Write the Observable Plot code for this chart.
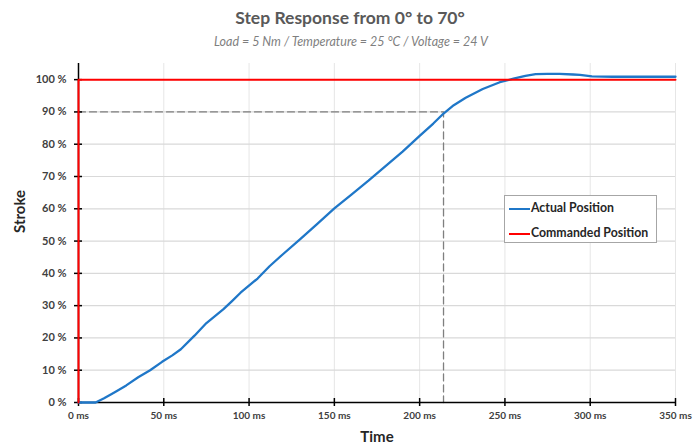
<!DOCTYPE html>
<html><head><meta charset="utf-8">
<script src="https://cdn.jsdelivr.net/npm/d3@7"></script>
<script src="https://cdn.jsdelivr.net/npm/@observablehq/plot@0.6"></script>
<style>
body{margin:0;background:#fff;font-family:Lato,"Open Sans",sans-serif;}
#wrap{position:relative;width:693px;height:445px;overflow:hidden;background:#fff;}
#title{position:absolute;top:7px;left:0;width:700px;text-align:center;font-weight:bold;font-size:17.5px;color:#595959;line-height:22px;}
#sub{position:absolute;top:34px;left:0;width:702px;text-align:center;font-style:italic;font-size:12.5px;color:#7f7f7f;line-height:16px;}
#chart{position:absolute;top:52px;left:0;}
#legend{position:absolute;left:504px;top:195px;width:151px;height:46px;border:1px solid #a6a6a6;background:#fff;font-weight:bold;font-size:12.3px;color:#262626;}
.item{position:absolute;left:4px;height:14px;line-height:14px;white-space:nowrap;}
.sw{display:inline-block;width:21px;height:2px;vertical-align:middle;margin-right:1px;}
</style></head>
<body>
<div id="wrap">
  <div id="title"></div>
  <div id="sub"></div>
  <div id="chart"></div>
  <div id="legend"></div>
</div>
<script>
const titleText = "Step Response from 0° to 70°";
const subtitleText = "Load = 5 Nm / Temperature = 25 °C / Voltage = 24 V";
const xLabel = "Time";
const yLabel = "Stroke";
const seriesNames = ["Actual Position", "Commanded Position"];
const seriesColors = ["#1f77c8", "#ff0000"];

const xTicks = [0, 50, 100, 150, 200, 250, 300, 350];
const yTicks = [0, 10, 20, 30, 40, 50, 60, 70, 80, 90, 100];

const actualTime = [0, 10, 15, 21, 28, 35, 42, 49, 55, 60, 68, 75, 85, 90, 95, 105, 112, 120, 130, 140, 150, 160, 170, 180, 190, 200, 208, 214, 220, 227, 237, 247, 255, 262, 268, 275, 282, 290, 294, 301, 313, 330, 350];
const actualValue = [0, 0, 1.3, 3.1, 5.3, 7.8, 10.0, 12.6, 14.6, 16.5, 20.7, 24.6, 28.9, 31.4, 34.0, 38.4, 42.2, 46.0, 50.6, 55.3, 60.1, 64.4, 68.7, 73.2, 77.7, 82.6, 86.4, 89.5, 92.1, 94.4, 97.1, 99.2, 100.3, 101.2, 101.7, 101.8, 101.8, 101.6, 101.5, 101.0, 100.9, 100.9, 100.9];

const commandTime = [0, 0, 350];
const commandValue = [0, 100, 100];

const riseLevel = 90;
const riseTime = 214;

document.getElementById("title").textContent = titleText;
document.getElementById("sub").textContent = subtitleText;

const actual = actualTime.map((t, i) => ({t, v: actualValue[i]}));
const command = commandTime.map((t, i) => ({t, v: commandValue[i]}));
const guide = [{t: 0, v: riseLevel}, {t: riseTime, v: riseLevel}, {t: riseTime, v: 0}];

const chart = Plot.plot({
  width: 693, height: 393,
  marginLeft: 78, marginRight: 18, marginTop: 11, marginBottom: 43,
  style: {fontFamily: "Lato, 'Open Sans', sans-serif", fontSize: "11px", color: "#404040", background: "white", overflow: "visible"},
  x: {domain: [0, 350]},
  y: {domain: [0, 105]},
  marks: [
    Plot.gridX(xTicks, {stroke: "#e6e6e6", strokeOpacity: 1, strokeWidth: 1}),
    Plot.gridY(yTicks, {stroke: "#d9d9d9", strokeOpacity: 1, strokeWidth: 1.2}),
    Plot.line(guide, {x: "t", y: "v", stroke: "#7f7f7f", strokeWidth: 1.3, strokeDasharray: "7,4"}),
    Plot.ruleX([0], {stroke: "#000", strokeWidth: 1.5}),
    Plot.ruleY([0], {stroke: "#000", strokeWidth: 1.5}),
    Plot.axisY(yTicks, {tickSize: 8, dx: 4, tickFormat: () => "", label: null, stroke: "#000", strokeWidth: 1.5}),
    Plot.axisX(xTicks, {tickSize: 8, dy: -4, tickFormat: () => "", label: null, stroke: "#000", strokeWidth: 1.5}),
    Plot.axisY(yTicks, {tickSize: 0, tickPadding: 12, tickFormat: d => d + " %", label: null, fontWeight: "bold", fill: "#404040", fontSize: 11}),
    Plot.axisX(xTicks, {tickSize: 0, tickPadding: 9, tickFormat: d => d + " ms", label: null, fontWeight: "bold", fill: "#404040", fontSize: 10}),
    Plot.text([yLabel], {frameAnchor: "left", rotate: -90, dx: -58, text: d => d, fontWeight: "bold", fontSize: 15, fill: "#262626"}),
    Plot.text([xLabel], {frameAnchor: "bottom", dy: 39, text: d => d, fontWeight: "bold", fontSize: 15, fill: "#262626"}),
    Plot.line(actual, {x: "t", y: "v", stroke: seriesColors[0], strokeWidth: 2.3}),
    Plot.line(command, {x: "t", y: "v", stroke: seriesColors[1], strokeWidth: 2})
  ]
});
document.getElementById("chart").appendChild(chart);

const legend = document.getElementById("legend");
seriesNames.forEach((name, i) => {
  const d = document.createElement("div");
  d.className = "item";
  d.style.top = (5 + i * 25) + "px";
  d.innerHTML = `<span class="sw" style="background:${seriesColors[i]}"></span>${name}`;
  legend.appendChild(d);
});
</script>
</body></html>
